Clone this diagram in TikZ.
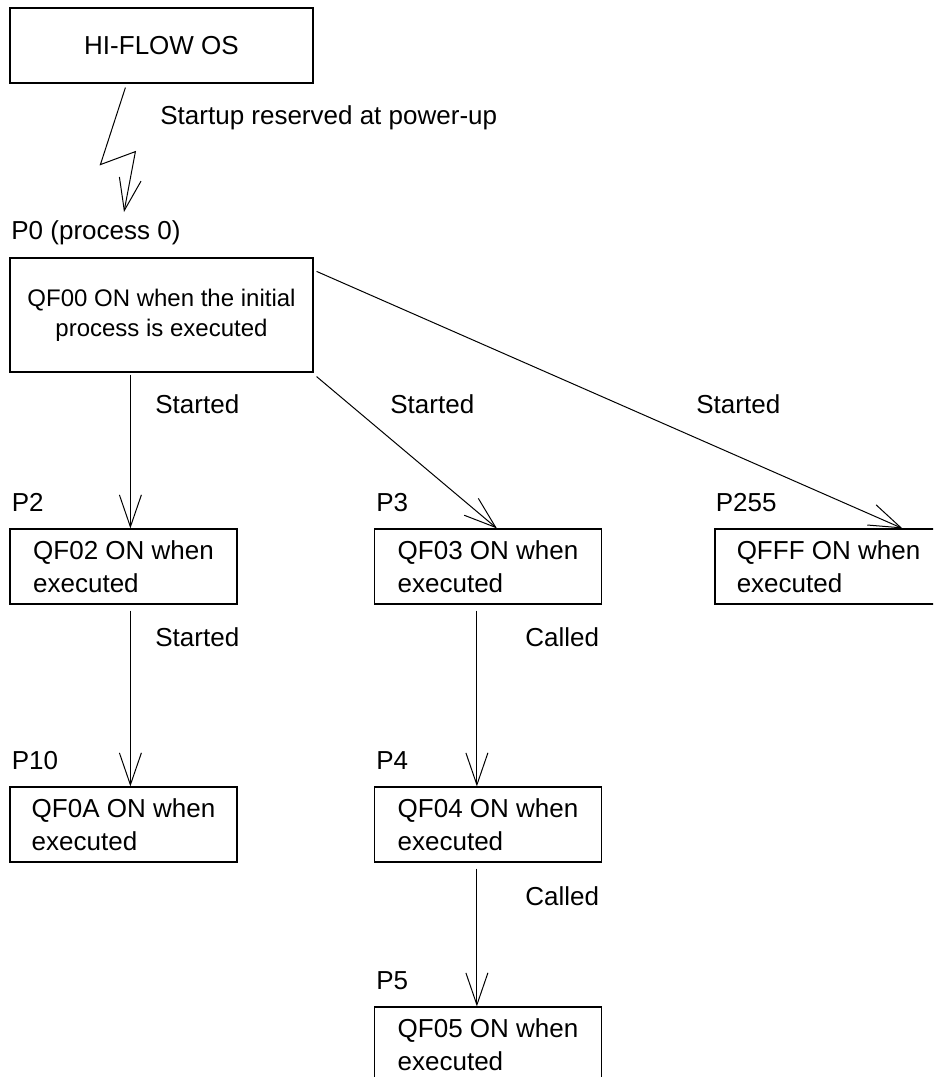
\documentclass[tikz,border=0pt]{standalone}
\usepackage{fontspec}
\setmainfont{Liberation Sans}
\usepackage{tikz}
\usetikzlibrary{arrows.meta, positioning}

\begin{document}
\begin{tikzpicture}[
  x = 0.5pt, y = -0.5pt,
  box/.style   = {rectangle, draw, line width=0.6pt, minimum height=37.5pt,
                  font=\fontsize{13pt}{16.75pt}\selectfont},
  osbox/.style = {box, minimum width=151.5pt, align=center},
  pbox/.style  = {box, minimum width=113.5pt, align=left},
  lbl/.style   = {anchor=base west, inner sep=0pt,
                  font=\fontsize{13pt}{16pt}\selectfont},
  arr/.style   = {-{Straight Barb[length=16pt, width=11pt]}, line width=0.5pt},
]
\useasboundingbox (0,0) rectangle (933,1077);
\clip (0,0) rectangle (933,1077);

\node[osbox] (os) at (161.5,45.5) {HI-FLOW OS};
\node[lbl] (bootlbl) at (160,124) {Startup reserved at power-up};
\node[lbl] (p0lbl) at (11,239) {P0 (process 0)};
\node[osbox, minimum height=57pt, font=\fontsize{12pt}{15pt}\selectfont] (p0)
  at (161.5,315) {QF00 ON when the initial\\process is executed};

\node[pbox] (p2)   at (123.5,566.5) {QF02 ON when\\executed};
\node[pbox] (p3)   at (488,566.5)   {QF03 ON when\\executed};
\node[pbox] (p255) at (828.5,566.5) {QFFF ON when\\executed};
\node[pbox] (p10)  at (123.5,824.5) {QF0A ON when\\executed};
\node[pbox] (p4)   at (488,824.5)   {QF04 ON when\\executed};
\node[pbox] (p5)   at (488,1044.5)  {QF05 ON when\\executed};

\node[above right=8.25pt and 1pt of p2.north west, lbl]   (p2lbl)   {P2};
\node[above right=8.25pt and 1pt of p3.north west, lbl]   (p3lbl)   {P3};
\node[above right=8.25pt and 0.5pt of p255.north west, lbl] (p255lbl) {P255};
\node[above right=8.25pt and 1pt of p10.north west, lbl]  (p10lbl)  {P10};
\node[above right=8.25pt and 1pt of p4.north west, lbl]   (p4lbl)   {P4};
\node[above right=8.25pt and 1pt of p5.north west, lbl]   (p5lbl)   {P5};

\node[lbl] (st1) at (155,413) {Started};
\node[lbl] (st2) at (390,413) {Started};
\node[lbl] (st3) at (696,413) {Started};
\node[lbl] (st4) at (155,646) {Started};
\node[lbl] (cl1) at (525,646) {Called};
\node[lbl] (cl2) at (525,905) {Called};

% power-up start
\draw[arr] ([shift={(116,4)}]os.south west) -- ++(-25,77) -- ++(35,-13)
  -- ([shift={(113,-27)}]p0lbl.base west);
\draw[arr] ([shift={(121,2)}]p0.south west) -- ([shift={(121,0)}]p2.north west);
\draw[arr] ([shift={(3,4)}]p0.south east) -- ([shift={(123,0)}]p3.north west);
\draw[arr] ([shift={(3,14)}]p0.north east) -- ([shift={(188,0)}]p255.north west);
\draw[arr] ([shift={(121,6)}]p2.south west) -- ([shift={(121,0)}]p10.north west);
\draw[arr] ([shift={(103,6)}]p3.south west) -- ([shift={(103,0)}]p4.north west);
\draw[arr] ([shift={(103,6)}]p4.south west) -- ([shift={(103,0)}]p5.north west);
\end{tikzpicture}
\end{document}
